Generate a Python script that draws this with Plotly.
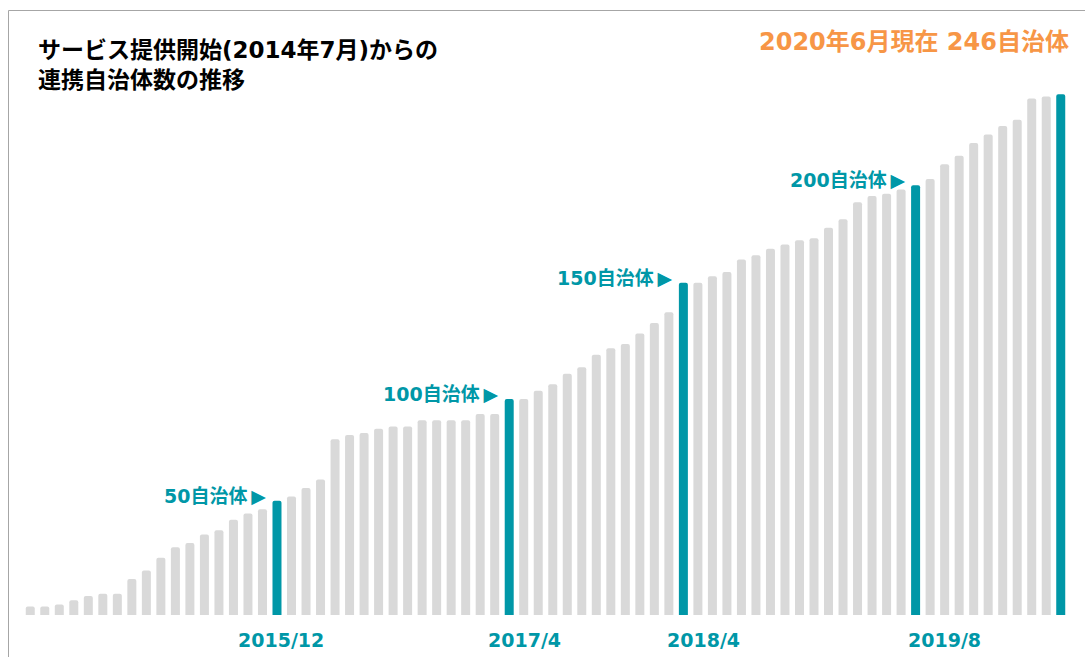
import plotly.graph_objects as go

# ---------------- data ----------------
months = [f"{y}/{m}" for y in range(2014, 2021) for m in range(1, 13)
          if (2014, 7) <= (y, m) <= (2020, 6)]

counts = [4, 4, 5, 7, 9, 10, 10, 17, 21, 27, 32, 34, 38, 40, 45, 48, 50, 54,
          56, 60, 64, 83, 85, 86, 88, 89, 89, 92, 92, 92, 92, 95, 95, 102,
          102, 106, 109, 114, 117, 123, 126, 128, 133, 138, 143, 157,
          157, 160, 162, 168, 170, 173, 175, 177, 178, 183, 187, 195, 198, 199, 201, 203,
          206, 213, 217, 223, 227, 231, 234, 244, 245, 246]

highlight_months = ["2015/12", "2017/4", "2018/4", "2019/8", "2020/6"]
milestone_months = ["2015/12", "2017/4", "2018/4", "2019/8"]
milestone_labels = ["50自治体\u2009▶", "100自治体\u2009▶", "150自治体\u2009▶", "200自治体\u2009▶"]
axis_label_months = ["2015/12", "2017/4", "2018/4", "2019/8"]
axis_label_shift = [4, 15, 20, 29]

title_lines = ["サービス提供開始(2014年7月)からの", "連携自治体数の推移"]
status_text = "2020年6月現在 246自治体"

# ---------------- style ----------------
W, H = 1085, 657
M_L, M_R, M_T, M_B = 23, 17, 80, 42
PW, PH = W - M_L - M_R, H - M_T - M_B
PX_PER_UNIT = 520.7 / 246
TEAL = "#0097A7"
GRAY = "#D9D9D9"
ORANGE = "#F79646"
FONT = "DejaVu Sans, Noto Sans CJK JP, sans-serif"


def pxx(x):
    """window pixel x -> paper x"""
    return (x - M_L) / PW


def pxy(y):
    """window pixel y (from top) -> paper y"""
    return (H - M_B - y) / PH


colors = [TEAL if m in highlight_months else GRAY for m in months]

fig = go.Figure(go.Bar(x=months, y=counts, marker=dict(color=colors, line=dict(width=0)),
                       hoverinfo="x+y"))

annotations = []
for m, lab in zip(milestone_months, milestone_labels):
    annotations.append(dict(x=m, y=counts[months.index(m)], xref="x", yref="y",
                            text=lab, showarrow=False, xanchor="right", yanchor="middle",
                            xshift=-9, yshift=5,
                            font=dict(family=FONT, size=19, color=TEAL, weight="bold")))
for m, s in zip(axis_label_months, axis_label_shift):
    annotations.append(dict(x=m, y=0, xref="x", yref="y", text=m, showarrow=False,
                            xanchor="center", yanchor="middle", xshift=s, yshift=-25,
                            font=dict(family=FONT, size=19, color=TEAL, weight="bold")))
for i, line in enumerate(title_lines):
    annotations.append(dict(x=pxx(36), y=pxy(50 + 30 * i), xref="paper", yref="paper",
                            text=line, showarrow=False, xanchor="left", yanchor="middle",
                            font=dict(family=FONT, size=23, color="#000000", weight="bold")))
annotations.append(dict(x=pxx(1071), y=pxy(42), xref="paper", yref="paper",
                        text=status_text, showarrow=False, xanchor="right", yanchor="middle",
                        font=dict(family=FONT, size=24, color=ORANGE, weight="bold")))

shapes = [
    dict(type="line", xref="paper", yref="paper", x0=pxx(8.5), x1=pxx(1085),
         y0=pxy(10.5), y1=pxy(10.5), line=dict(color="#A6A6A6", width=1)),
    dict(type="line", xref="paper", yref="paper", x0=pxx(8.5), x1=pxx(8.5),
         y0=pxy(10.5), y1=pxy(657), line=dict(color="#A6A6A6", width=1)),
]

fig.update_layout(
    width=W, height=H,
    margin=dict(l=M_L, r=M_R, t=M_T, b=M_B, pad=0),
    paper_bgcolor="white", plot_bgcolor="white",
    bargap=0.38, barcornerradius=2,
    showlegend=False,
    xaxis=dict(type="category", range=[-0.5, len(months) - 0.5], showticklabels=False,
               showgrid=False, zeroline=False, showline=False, ticks=""),
    yaxis=dict(range=[0, PH / PX_PER_UNIT], visible=False, showgrid=False, zeroline=False),
    annotations=annotations,
    shapes=shapes,
)

fig.write_html(
    "out.html",
    config={"displayModeBar": False},
    post_script="document.body.style.margin='0';document.body.style.overflow='hidden';",
)
